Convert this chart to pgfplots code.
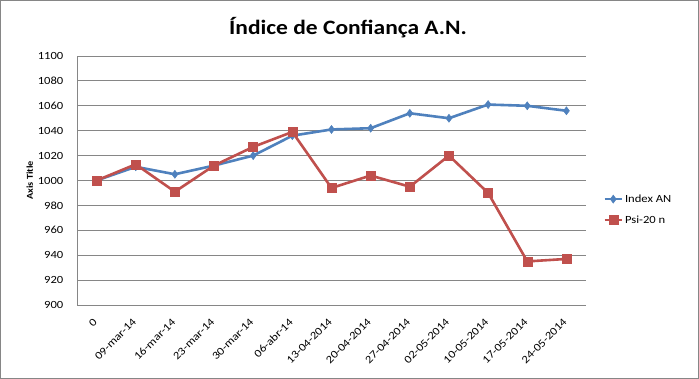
\documentclass[border=0pt]{standalone}
\usepackage{pgfplots}
\pgfplotsset{compat=1.18}
\usepackage{fontspec}
\setmainfont{Carlito}
\newfontfamily\wide[FakeStretch=1.15]{Carlito}
\definecolor{exblue}{HTML}{4F81BD}
\definecolor{exred}{HTML}{C0504D}
\definecolor{gridgray}{HTML}{868686}
\begin{document}
\begin{tikzpicture}
\fill[white] (0bp,0bp) rectangle (699bp,379bp);
\draw[gridgray,line width=0.8bp] (0.5bp,0.5bp) rectangle (698.5bp,378.5bp);
\node[font=\wide\bfseries\fontsize{20.5}{22}\selectfont] at (348bp,351bp) {Índice de Confiança A.N.};
\begin{axis}[
  at={(77bp,74bp)}, anchor=south west,
  scale only axis, width=509bp, height=249bp,
  xmin=-0.5, xmax=12.5, ymin=900, ymax=1100,
  ytick={900,920,...,1100},
  xtick={0,...,12},
  xticklabels={0,09-mar-14,16-mar-14,23-mar-14,30-mar-14,06-abr-14,13-04-2014,20-04-2014,27-04-2014,02-05-2014,10-05-2014,17-05-2014,24-05-2014},
  x tick label style={font=\wide\fontsize{11}{12}\selectfont, inner sep=1pt, yshift=-9bp, xshift=-4bp, rotate=45, anchor=north east},
  y tick label style={font=\wide\fontsize{11}{12}\selectfont, xshift=-8bp},
  /pgf/number format/assume math mode=true,
  /pgf/number format/set thousands separator={},
  axis x line=bottom, axis y line=left,
  axis line style={-, gridgray, line width=0.8bp},
  ymajorgrids, grid style={gridgray, line width=0.8bp},
  tick style={draw=none},
  ylabel={\textbf{Axis Title}},
  ylabel style={font=\wide\fontsize{9}{10}\selectfont, yshift=-2bp},
  legend style={at={(1.028,0.383)}, anchor=west, draw=none, fill=none, font=\wide\fontsize{11}{12}\selectfont, row sep=8bp},
  legend cell align=left,
  clip=false,
]
\addplot[exblue, line width=2.6bp, mark=diamond*, mark size=4bp, mark options={fill=exblue, line width=0.5bp}]
coordinates {(0,1000)(1,1011)(2,1005)(3,1012)(4,1020)(5,1036)(6,1041)(7,1042)(8,1054)(9,1050)(10,1061)(11,1060)(12,1056)};
\addlegendentry{Index AN}
\addplot[exred, line width=2.6bp, mark=square*, mark size=4.5bp, mark options={fill=exred, line width=0.5bp}]
coordinates {(0,1000)(1,1013)(2,991)(3,1012)(4,1027)(5,1039)(6,994)(7,1004)(8,995)(9,1020)(10,990)(11,935)(12,937)};
\addlegendentry{Psi-20 n}
\end{axis}
\end{tikzpicture}
\end{document}
